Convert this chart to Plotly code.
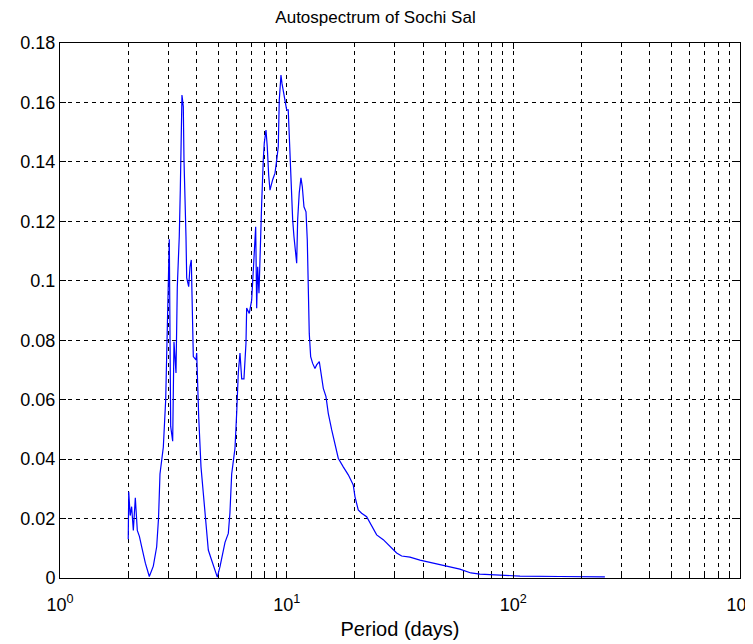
import plotly.graph_objects as go

period_days = [
    2.00, 2.01, 2.04, 2.07, 2.106, 2.149, 2.193, 2.24, 2.293, 2.38, 2.477, 2.58,
    2.670, 2.72, 2.761, 2.856, 2.926, 2.955, 3.004, 3.035, 3.078, 3.141, 3.183,
    3.249, 3.292, 3.359, 3.394, 3.452, 3.499, 3.524, 3.596, 3.622, 3.696, 3.745,
    3.795, 3.822, 3.873, 3.981, 4.009, 4.091, 4.188, 4.287, 4.406, 4.511, 4.62,
    4.80, 4.943, 5.08, 5.22, 5.345, 5.528, 5.62, 5.72, 5.916, 6.018, 6.117, 6.223,
    6.333, 6.48, 6.614, 6.661, 6.839, 7.008, 7.079, 7.196, 7.299, 7.374, 7.449,
    7.548, 7.649, 7.757, 7.885, 7.965, 8.104, 8.211, 8.329, 8.44, 8.674, 8.881,
    9.035, 9.182, 9.276, 9.437, 9.534, 9.66, 9.828, 10.0, 10.16, 10.27, 10.41,
    10.63, 10.77, 10.91, 11.07, 11.18, 11.36, 11.56, 11.72, 11.92, 12.17, 12.33,
    12.42, 12.58, 12.76, 13.02, 13.33, 13.56, 13.93, 14.17, 14.51, 14.91, 15.26,
    15.8, 16.33, 16.89, 17.77, 18.7, 19.67, 20.01, 20.69, 21.41, 22.53, 23.71,
    24.95, 26.68, 28.56, 30.56, 32.16, 34.99, 38.73, 42.9, 50.0, 58.1, 65.0,
    71.2, 87.3, 107.0, 160.0, 253.5,
]
autospectrum = [
    0.013, 0.029, 0.021, 0.024, 0.016, 0.027, 0.016, 0.014, 0.0105, 0.005, 0.0005, 0.004,
    0.0105, 0.020, 0.035, 0.044, 0.060, 0.074, 0.098, 0.114, 0.051, 0.046, 0.0795,
    0.069, 0.098, 0.115, 0.1305, 0.1625, 0.1586, 0.1406, 0.1148, 0.101, 0.098, 0.1047,
    0.107, 0.0913, 0.0745, 0.0734, 0.0757, 0.0543, 0.0374, 0.0286, 0.0185, 0.0094, 0.007,
    0.003, 0.0003, 0.0038, 0.008, 0.012, 0.015, 0.022, 0.035, 0.0437, 0.0555, 0.069, 0.0757,
    0.067, 0.067, 0.079, 0.0908, 0.089, 0.0935, 0.101, 0.1127, 0.1182, 0.0908, 0.1047,
    0.0958, 0.1148, 0.126, 0.1406, 0.1463, 0.1507, 0.1451, 0.1356, 0.1305, 0.134, 0.1362,
    0.1406, 0.1451, 0.1608, 0.1692, 0.1664, 0.1636, 0.1608, 0.1575, 0.1575, 0.1485, 0.1329,
    0.1205, 0.1148, 0.1098, 0.1059, 0.1205, 0.1295, 0.1346, 0.1317, 0.1249, 0.1232, 0.1137,
    0.098, 0.0823, 0.0745, 0.0722, 0.0705, 0.0717, 0.0728, 0.0694, 0.0638, 0.061, 0.0554,
    0.0498, 0.0447, 0.0403, 0.0374, 0.0347, 0.0313, 0.0274, 0.0229, 0.0218, 0.0206, 0.0173,
    0.0145, 0.0129, 0.0106, 0.0084, 0.0074, 0.007, 0.006, 0.0052, 0.004, 0.003, 0.0017,
    0.0013, 0.001, 0.0006, 0.0005, 0.0004,
]

x_major_vals = [1, 10, 100, 1000]
x_major_text = ["10<sup>0</sup>", "10<sup>1</sup>", "10<sup>2</sup>", "10<sup>3</sup>"]
x_minor_vals = [m * d for d in (1, 10, 100) for m in range(2, 10)]
y_tick_vals = [0, 0.02, 0.04, 0.06, 0.08, 0.1, 0.12, 0.14, 0.16, 0.18]
y_tick_text = ["0", "0.02", "0.04", "0.06", "0.08", "0.1", "0.12", "0.14", "0.16", "0.18"]

FONT = "Liberation Sans, Arial, sans-serif"

fig = go.Figure()
fig.add_trace(go.Scatter(
    x=period_days, y=autospectrum, mode="lines",
    line=dict(color="#0000ff", width=1.2), showlegend=False,
))

# page body has an 8px margin, so the figure is slightly smaller than the window
fig.update_layout(
    width=745, height=636,
    margin=dict(l=52, r=13, t=35, b=66, autoexpand=False),
    paper_bgcolor="white", plot_bgcolor="white",
    font=dict(family=FONT, color="black", size=17),
    title=dict(text="Autospectrum of Sochi Sal", x=0.4933, xref="container",
               y=0.986, yref="container", xanchor="center", yanchor="middle",
               font=dict(size=17, family=FONT, color="black")),
)
fig.update_xaxes(
    type="log", range=[-0.00005, 3.00005], automargin=False,
    tickmode="array", tickvals=x_major_vals, ticktext=x_major_text,
    ticklabeloverflow="allow",
    showgrid=True, gridcolor="black", griddash="4px,4px", gridwidth=1,
    showline=True, linecolor="black", linewidth=1, mirror="ticks",
    ticks="inside", ticklen=6, tickcolor="black",
    minor=dict(tickvals=x_minor_vals, showgrid=True, gridcolor="black",
               griddash="4px,4px", gridwidth=1, ticks="inside", ticklen=3,
               tickcolor="black"),
    zeroline=False, ticklabelstandoff=10,
    title=dict(text="Period (days)", font=dict(size=20, family=FONT), standoff=8),
    tickfont=dict(size=18, family=FONT),
)
fig.update_yaxes(
    range=[0, 0.18], automargin=False,
    tickmode="array", tickvals=y_tick_vals, ticktext=y_tick_text,
    showgrid=True, gridcolor="black", griddash="4px,4px", gridwidth=1,
    showline=True, linecolor="black", linewidth=1, mirror="ticks",
    ticks="inside", ticklen=6, tickcolor="black",
    zeroline=False, tickfont=dict(size=18, family=FONT),
)

fig.write_html("out.html")
